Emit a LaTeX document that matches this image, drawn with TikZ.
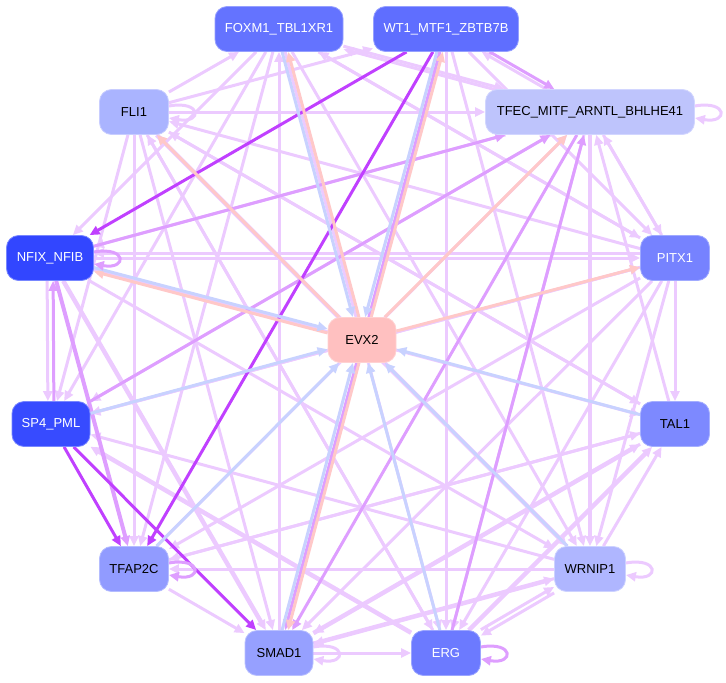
\documentclass[tikz,border=0pt]{standalone}
\usepackage{fontspec}
\setmainfont{Liberation Sans}
\usetikzlibrary{arrows.meta}
\pgfdeclarelayer{bg}
\pgfsetlayers{bg,main}
\definecolor{lvc}{RGB}{236,202,255}
\definecolor{mpc}{RGB}{222,158,255}
\definecolor{spc}{RGB}{192,64,255}
\definecolor{blc}{RGB}{200,210,255}
\definecolor{sac}{RGB}{255,200,200}
\tikzset{
  box/.style={rectangle, rounded corners=12pt, minimum height=45pt, inner sep=0pt,
    font=\fontsize{13}{15}\selectfont, line width=0.8pt},
  edge/.style={-{Triangle[length=10pt,width=9pt]}, line width=3pt},
  lv/.style={edge, color=lvc},
  lvt/.style={edge, color=lvc, line width=4.5pt},
  mp/.style={edge, color=mpc},
  mpt/.style={edge, color=mpc, line width=4pt},
  sp/.style={edge, color=spc},
  bl/.style={edge, color=blc},
  sa/.style={edge, color=sac},
}
\begin{document}
\begin{tikzpicture}[x=1pt,y=-1pt]
\useasboundingbox (0,0) rectangle (726,683);
% nodes
\node[box, fill={rgb,255:red,100;green,115;blue,255}, draw={rgb,255:red,150;green,160;blue,255}, text=white, minimum width=128pt] (F) at (279,29) {FOXM1\_TBL1XR1};
\node[box, fill={rgb,255:red,95;green,110;blue,255}, draw={rgb,255:red,150;green,160;blue,255}, text=white, minimum width=145pt] (W) at (446,29) {WT1\_MTF1\_ZBTB7B};
\node[box, fill={rgb,255:red,170;green,180;blue,255}, draw={rgb,255:red,200;green,205;blue,255}, text=black, minimum width=69pt] (L) at (134,112) {FLI1};
\node[box, fill={rgb,255:red,190;green,196;blue,252}, draw={rgb,255:red,210;green,214;blue,255}, text=black, minimum width=209pt] (T) at (590,112) {TFEC\_MITF\_ARNTL\_BHLHE41};
\node[box, fill={rgb,255:red,50;green,70;blue,255}, draw={rgb,255:red,120;green,135;blue,255}, text=white, minimum width=87pt] (N) at (50,258) {NFIX\_NFIB};
\node[box, fill={rgb,255:red,118;green,130;blue,255}, draw={rgb,255:red,160;green,170;blue,255}, text=white, minimum width=69pt] (P) at (675,258) {PITX1};
\node[box, fill={rgb,255:red,255;green,192;blue,192}, draw={rgb,255:red,255;green,210;blue,210}, text=black, minimum width=68pt] (E) at (362,340) {EVX2};
\node[box, fill={rgb,255:red,55;green,75;blue,255}, draw={rgb,255:red,120;green,135;blue,255}, text=white, minimum width=78pt] (S) at (51,424) {SP4\_PML};
\node[box, fill={rgb,255:red,125;green,137;blue,255}, draw={rgb,255:red,165;green,175;blue,255}, text=black, minimum width=69pt] (A) at (675,424) {TAL1};
\node[box, fill={rgb,255:red,145;green,155;blue,255}, draw={rgb,255:red,180;green,188;blue,255}, text=black, minimum width=69pt] (C) at (134,569) {TFAP2C};
\node[box, fill={rgb,255:red,175;green,182;blue,255}, draw={rgb,255:red,205;green,210;blue,255}, text=black, minimum width=71pt] (R) at (590,569) {WRNIP1};
\node[box, fill={rgb,255:red,150;green,160;blue,255}, draw={rgb,255:red,185;green,192;blue,255}, text=black, minimum width=68pt] (M) at (279,653) {SMAD1};
\node[box, fill={rgb,255:red,108;green,122;blue,255}, draw={rgb,255:red,155;green,165;blue,255}, text=white, minimum width=69pt] (G) at (446,653) {ERG};
\begin{pgfonlayer}{bg}
% light edges
\draw[lv] (L) -- (F);
\draw[lv] (M) -- (F);
\draw[lv] (F) -- (N);
\draw[lv] (F) -- (S);
\draw[lv] (F) -- (C);
\draw[lv] (F) -- (T);
\draw[lv] (F) -- (P);
\draw[lv] (F) -- (R);
\draw[lv] (F) -- (G);
\draw[lv, transform canvas={yshift=-3pt}] (T) -- (F);
\draw[lv] (P) -- (F);
\draw[lv] (L) -- (W);
\draw[lv] (W) -- (G);
\draw[lv] (W) -- (R);
\draw[lv] (W) -- (P);
\draw[lv, transform canvas={xshift=-4pt}] (T) -- (W);
\draw[lv] (L) -- (T);
\draw[lv] (L) -- (C);
\draw[lv] (L) -- (M);
\draw[lv] (L) -- (G);
\draw[lvt] (L) -- (R);
\draw[lv] (L) -- (S);
\draw[lv] (L) -- (A);
\draw[lv] (P) -- (L);
\draw[lv] (R) -- (L);
\draw[lv] (A) -- (L);
\draw[lv] (G) -- (L);
\draw[lv] (N) -- (P);
\draw[lv, transform canvas={yshift=5pt}] (P) -- (N);
\draw[lv] (T) -- (N);
\draw[lv] (N) -- (A);
\draw[lv] (N) -- (R);
\draw[lv, transform canvas={xshift=-3pt}] (N) -- (S);
\draw[lvt] (N) -- (M);
\draw[lv] (S) -- (P);
\draw[lv] (P) -- (S);
\draw[lv] (T) -- (S);
\draw[lv] (R) -- (S);
\draw[lvt] (G) -- (S);
\draw[lv] (C) -- (M);
\draw[lv] (R) -- (C);
\draw[lv] (A) -- (C);
\draw[lv] (P) -- (C);
\draw[lv] (C) -- (T);
\draw[lv] (M) -- (G);
\draw[lvt] (M) -- (R);
\draw[lv] (R) -- (M);
\draw[lv] (A) -- (M);
\draw[lv] (P) -- (M);
\draw[lvt] (M) -- (A);
\draw[lv, transform canvas={yshift=3pt}] (G) -- (R);
\draw[lv, transform canvas={yshift=-3pt}] (R) -- (G);
\draw[lvt] (G) -- (A);
\draw[lv] (P) -- (G);
\draw[lv] (T) -- (G);
\draw[lv] (P) -- (T);
\draw[lv] (T) -- (P);
\draw[lvt] (T) -- (R);
\draw[lv] (P) -- (A);
\draw[lv] (P) -- (R);
\draw[lv] (A) -- (T);
\draw[lv] (R) -- (A);
\draw[lv] (C) -- (A);
% medium edges
\draw[mpt] (N) -- (C);
\draw[mp, transform canvas={xshift=3pt}] (S) -- (N);
\draw[mp, transform canvas={xshift=4pt}] (W) -- (T);
\draw[mp] (N) -- (T);
\draw[mp] (S) -- (T);
\draw[mp] (G) -- (T);
\draw[mp] (T) -- (M);
\draw[mp] (W) -- (M);
% strong edges
\draw[sp] (W) -- (N);
\draw[sp] (W) -- (C);
\draw[sp] (S) -- (C);
\draw[sp] (S) -- (M);
% salmon edges from EVX2
\draw[sa, transform canvas={xshift=3pt}] (E) -- (F);
\draw[sa, transform canvas={xshift=3pt}] (E) -- (W);
\draw[sa] (E) -- (L);
\draw[sa, transform canvas={yshift=-2pt}] (E) -- (N);
\draw[sa] (E) -- (T);
\draw[sa] (E) -- (P);
\draw[sa, transform canvas={xshift=3pt}] (E) -- (M);
% blue edges into EVX2
\draw[bl, transform canvas={xshift=-3pt}] (F) -- (E);
\draw[bl, transform canvas={xshift=-3pt}] (W) -- (E);
\draw[bl, transform canvas={yshift=2pt}] (N) -- (E);
\draw[bl] (S) -- (E);
\draw[bl] (C) -- (E);
\draw[bl] (A) -- (E);
\draw[bl] (R) -- (E);
\draw[bl] (G) -- (E);
\draw[bl, transform canvas={xshift=-3pt}] (M) -- (E);
% self loops
\draw[lv] ([yshift=6pt]L.east) to[out=10,in=-10,distance=34pt] ([yshift=-6pt]L.east);
\draw[lv] ([yshift=6pt]T.east) to[out=10,in=-10,distance=34pt] ([yshift=-6pt]T.east);
\draw[mp] ([yshift=6pt]N.east) to[out=10,in=-10,distance=34pt] ([yshift=-6pt]N.east);
\draw[mp] ([yshift=6pt]C.east) to[out=10,in=-10,distance=34pt] ([yshift=-6pt]C.east);
\draw[lv] ([yshift=6pt]R.east) to[out=10,in=-10,distance=34pt] ([yshift=-6pt]R.east);
\draw[lv] ([yshift=6pt]M.east) to[out=10,in=-10,distance=34pt] ([yshift=-6pt]M.east);
\draw[mp] ([yshift=6pt]G.east) to[out=10,in=-10,distance=34pt] ([yshift=-6pt]G.east);
\end{pgfonlayer}
\end{tikzpicture}
\end{document}
